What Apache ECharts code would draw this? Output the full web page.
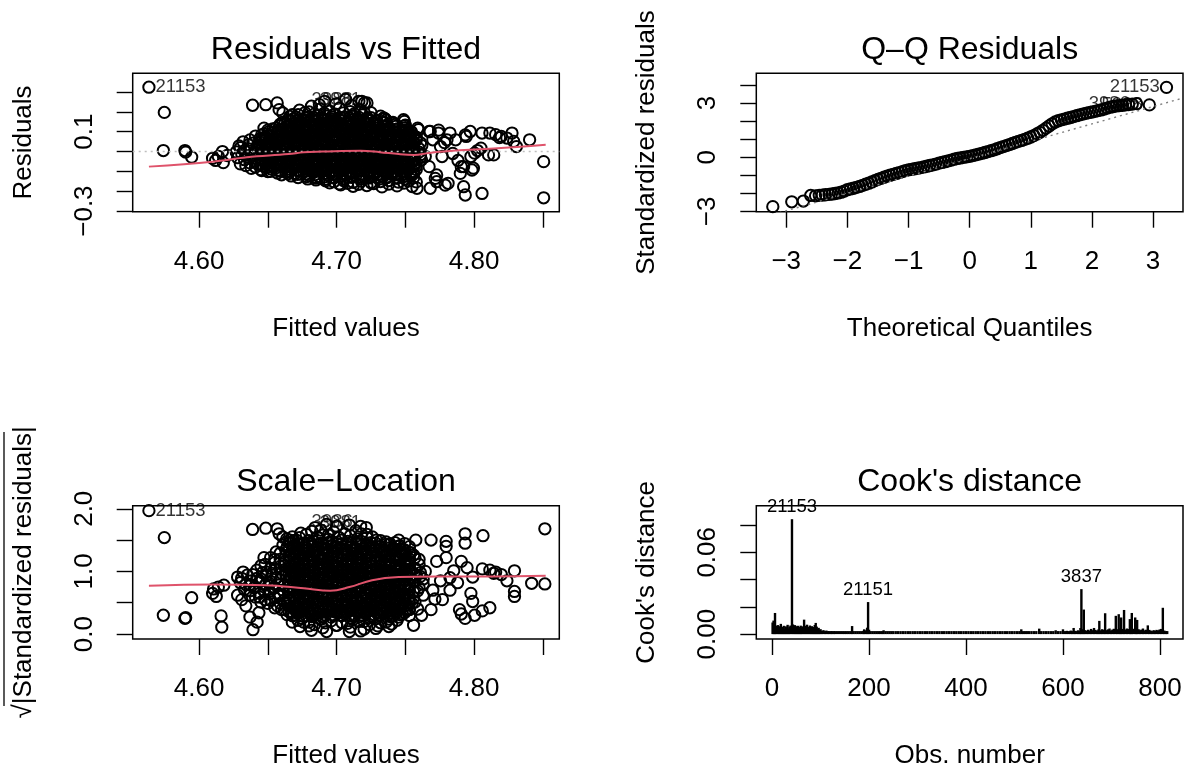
<!DOCTYPE html>
<html>
<head>
<meta charset="utf-8">
<title>lm diagnostics</title>
<script src="https://cdn.jsdelivr.net/npm/echarts@6.0.0/dist/echarts.min.js"></script>
<style>
  html, body { margin: 0; padding: 0; background: #fff; }
  #main { width: 1186px; height: 770px; }
</style>
</head>
<body>
<div id="main"></div>
<script>
// ---- Residuals vs Fitted: [fitted, residual] ----
const rvfPoints = [
  [4.5635,0.324],[4.5747,0.197],[4.574,0.005],[4.5897,0.005],[4.5902,-0.003],[4.5946,-0.028],
  [4.6098,-0.034],[4.614,-0.025],[4.6176,-0.056],[4.617,0.0],[4.612,-0.045],[4.6205,-0.02],
  [4.6389,0.233],[4.6485,0.236],[4.6568,0.245],[4.6582,0.211],[4.6609,0.194],[4.6678,0.186],
  [4.6472,0.118],[4.6458,0.059],[4.6817,0.228],[4.6913,0.253],[4.7066,0.262],[4.7162,0.253],
  [4.7203,0.245],[4.6995,0.24],[4.6875,0.236],[4.711,0.232],[4.7184,0.253],[4.7221,0.245],
  [4.7342,0.169],[4.7493,0.152],[4.7487,0.16],[4.759,0.118],[4.7596,0.11],[4.7673,0.101],[4.7681,0.101],
  [4.7742,0.108],[4.7741,0.093],[4.7803,0.059],[4.7825,0.093],[4.7866,0.059],[4.7936,0.084],[4.7972,0.101],
  [4.8058,0.093],[4.8115,0.093],[4.8157,0.085],[4.8198,0.076],[4.8239,0.068],[4.8276,0.093],[4.8288,0.051],
  [4.8308,0.025],[4.8404,0.059],[4.8143,-0.017],[4.8105,-0.017],[4.8004,-0.008],[4.805,0.017],
  [4.8506,-0.051],[4.8506,-0.233],[4.7907,-0.076],[4.7924,-0.076],[4.79,-0.11],[4.7924,-0.177],
  [4.7936,-0.219],[4.8058,-0.211],[4.7995,-0.084],[4.7985,-0.093],[4.7977,-0.025],[4.7943,0.076],
  [4.7767,-0.025],[4.779,-0.169],[4.7811,-0.16],[4.7718,-0.135],[4.7681,-0.185],[4.7585,-0.185],
  [4.7728,-0.152],[4.7728,-0.118],[4.7673,-0.076],[4.7618,-0.042],[4.7756,0.025],[4.77,0.059],
  [4.7645,-0.025],[4.7785,0.045],[4.7845,-0.01],[4.7883,-0.045],[4.8025,0.005],[4.8185,0.07],
  [4.673,0.208],[4.680,0.199],[4.688,0.214],[4.695,0.203],[4.702,0.218],[4.710,0.201],[4.717,0.211],[4.725,0.196],
  [4.666,0.177],[4.672,0.186],[4.679,0.172],[4.686,0.183],[4.692,0.179],[4.699,0.188],[4.706,0.174],[4.712,0.181],
  [4.719,0.185],[4.725,0.171],[4.732,0.178],
  [4.661,0.148],[4.667,0.155],[4.674,0.143],[4.680,0.152],[4.687,0.158],[4.694,0.146],[4.700,0.153],[4.707,0.141],
  [4.714,0.156],[4.720,0.149],[4.727,0.144],[4.734,0.151],[4.741,0.147],
  [4.656,0.118],[4.663,0.124],[4.669,0.113],[4.676,0.121],[4.683,0.127],[4.689,0.116],[4.696,0.122],[4.703,0.119],
  [4.709,0.126],[4.716,0.114],[4.723,0.123],[4.729,0.117],[4.736,0.125],[4.743,0.112],[4.750,0.12],
  [4.647,0.088],[4.653,0.094],[4.660,0.085],[4.667,0.092],[4.673,0.097],[4.680,0.086],[4.687,0.091],[4.693,0.095],
  [4.700,0.083],[4.707,0.09],[4.713,0.096],[4.720,0.087],[4.727,0.093],[4.733,0.084],[4.740,0.089],[4.747,0.094],[4.754,0.086],
  [4.637,0.058],[4.644,0.063],[4.651,0.055],[4.657,0.061],[4.664,0.066],[4.671,0.054],[4.677,0.06],[4.684,0.065],
  [4.691,0.057],[4.697,0.062],[4.704,0.053],[4.711,0.059],[4.717,0.064],[4.724,0.056],[4.731,0.061],[4.737,0.067],
  [4.744,0.055],[4.751,0.06],[4.758,0.058],
  [4.629,0.028],[4.636,0.034],[4.642,0.025],[4.649,0.031],[4.656,0.036],[4.662,0.027],[4.669,0.032],[4.676,0.024],
  [4.682,0.035],[4.689,0.029],[4.696,0.033],[4.702,0.026],[4.709,0.031],[4.716,0.037],[4.722,0.028],[4.729,0.023],
  [4.736,0.034],[4.742,0.029],[4.749,0.032],[4.756,0.026],[4.762,0.03],
  [4.627,-0.002],[4.633,0.004],[4.640,-0.005],[4.647,0.002],[4.653,-0.004],[4.660,0.005],[4.667,-0.001],[4.673,0.003],
  [4.680,-0.006],[4.687,0.001],[4.693,0.006],[4.700,-0.003],[4.707,0.002],[4.713,-0.005],[4.720,0.004],[4.727,-0.002],
  [4.733,0.003],[4.740,-0.004],[4.747,0.001],[4.753,0.005],[4.760,-0.003],
  [4.628,-0.031],[4.635,-0.026],[4.641,-0.034],[4.648,-0.028],[4.655,-0.033],[4.661,-0.025],[4.668,-0.03],[4.675,-0.035],
  [4.681,-0.027],[4.688,-0.032],[4.695,-0.024],[4.701,-0.029],[4.708,-0.036],[4.715,-0.028],[4.721,-0.031],[4.728,-0.026],
  [4.735,-0.033],[4.741,-0.029],[4.748,-0.034],[4.755,-0.027],[4.761,-0.03],
  [4.630,-0.062],[4.637,-0.057],[4.643,-0.065],[4.650,-0.059],[4.657,-0.054],[4.663,-0.063],[4.670,-0.058],[4.677,-0.066],
  [4.683,-0.061],[4.690,-0.056],[4.697,-0.064],[4.703,-0.059],[4.710,-0.055],[4.717,-0.062],[4.723,-0.067],[4.730,-0.058],
  [4.737,-0.063],[4.743,-0.057],[4.750,-0.061],[4.757,-0.065],
  [4.638,-0.085],[4.645,-0.091],[4.652,-0.087],[4.658,-0.094],[4.665,-0.089],[4.672,-0.096],[4.678,-0.088],[4.685,-0.093],
  [4.692,-0.086],[4.698,-0.095],[4.705,-0.09],[4.712,-0.084],[4.718,-0.092],[4.725,-0.097],[4.732,-0.088],[4.738,-0.093],
  [4.745,-0.089],[4.752,-0.095],[4.758,-0.091],
  [4.660,-0.117],[4.667,-0.123],[4.674,-0.114],[4.680,-0.121],[4.687,-0.126],[4.694,-0.118],[4.700,-0.124],[4.707,-0.116],
  [4.714,-0.122],[4.720,-0.127],[4.727,-0.119],[4.734,-0.125],[4.740,-0.115],[4.747,-0.121],[4.754,-0.124],
  [4.685,-0.143],[4.692,-0.148],[4.698,-0.152],[4.705,-0.146],[4.712,-0.155],[4.718,-0.149],[4.725,-0.157],[4.732,-0.151],
  [4.738,-0.146],[4.745,-0.154],[4.752,-0.149],[4.758,-0.153],
  [4.703,-0.168],[4.712,-0.175],[4.722,-0.171],[4.733,-0.178],[4.744,-0.173],[4.755,-0.176],
  [4.677,0.196],[4.684,0.189],[4.691,0.193],[4.698,0.187],[4.705,0.195],[4.713,0.191],[4.720,0.197],
  [4.669,0.167],[4.676,0.160],[4.682,0.164],[4.689,0.158],[4.696,0.166],[4.702,0.162],[4.709,0.168],[4.716,0.161],
  [4.722,0.163],[4.729,0.158],[4.735,0.166],
  [4.659,0.138],[4.665,0.131],[4.672,0.135],[4.678,0.129],[4.685,0.137],[4.691,0.133],[4.698,0.139],[4.704,0.132],
  [4.711,0.136],[4.717,0.130],[4.724,0.138],[4.730,0.134],[4.737,0.131],[4.743,0.137],[4.750,0.133],
  [4.650,0.108],[4.657,0.101],[4.663,0.105],[4.670,0.099],[4.676,0.107],[4.683,0.103],[4.689,0.109],[4.696,0.102],
  [4.702,0.106],[4.709,0.100],[4.715,0.108],[4.722,0.104],[4.728,0.101],[4.735,0.107],[4.741,0.103],[4.748,0.109],[4.754,0.100],
  [4.641,0.078],[4.648,0.071],[4.654,0.075],[4.661,0.069],[4.667,0.077],[4.674,0.073],[4.680,0.079],[4.687,0.072],
  [4.693,0.076],[4.700,0.070],[4.706,0.078],[4.713,0.074],[4.719,0.071],[4.726,0.077],[4.732,0.073],[4.739,0.079],
  [4.745,0.070],[4.752,0.075],[4.758,0.072],
  [4.632,0.049],[4.639,0.042],[4.645,0.046],[4.652,0.040],[4.658,0.048],[4.665,0.044],[4.671,0.050],[4.678,0.043],
  [4.684,0.047],[4.691,0.041],[4.697,0.049],[4.704,0.045],[4.710,0.042],[4.717,0.048],[4.723,0.044],[4.730,0.050],
  [4.736,0.041],[4.743,0.046],[4.749,0.043],[4.756,0.047],[4.761,0.044],
  [4.630,0.019],[4.637,0.012],[4.643,0.016],[4.650,0.010],[4.656,0.018],[4.663,0.014],[4.669,0.020],[4.676,0.013],
  [4.682,0.017],[4.689,0.011],[4.695,0.019],[4.702,0.015],[4.708,0.012],[4.715,0.018],[4.721,0.014],[4.728,0.020],
  [4.734,0.011],[4.741,0.016],[4.747,0.013],[4.754,0.017],[4.760,0.014],
  [4.631,-0.011],[4.638,-0.018],[4.644,-0.014],[4.651,-0.020],[4.657,-0.012],[4.664,-0.016],[4.670,-0.010],[4.677,-0.017],
  [4.683,-0.013],[4.690,-0.019],[4.696,-0.011],[4.703,-0.015],[4.709,-0.018],[4.716,-0.012],[4.722,-0.016],[4.729,-0.010],
  [4.735,-0.019],[4.742,-0.014],[4.748,-0.017],[4.755,-0.013],[4.761,-0.016],
  [4.633,-0.041],[4.640,-0.048],[4.646,-0.044],[4.653,-0.050],[4.659,-0.042],[4.666,-0.046],[4.672,-0.040],[4.679,-0.047],
  [4.685,-0.043],[4.692,-0.049],[4.698,-0.041],[4.705,-0.045],[4.711,-0.048],[4.718,-0.042],[4.724,-0.046],[4.731,-0.040],
  [4.737,-0.049],[4.744,-0.044],[4.750,-0.047],[4.757,-0.043],
  [4.634,-0.071],[4.641,-0.078],[4.647,-0.074],[4.654,-0.080],[4.660,-0.072],[4.667,-0.076],[4.673,-0.070],[4.680,-0.077],
  [4.686,-0.073],[4.693,-0.079],[4.699,-0.071],[4.706,-0.075],[4.712,-0.078],[4.719,-0.072],[4.725,-0.076],[4.732,-0.070],
  [4.738,-0.079],[4.745,-0.074],[4.751,-0.077],[4.758,-0.073],
  [4.650,-0.101],[4.657,-0.108],[4.663,-0.104],[4.670,-0.110],[4.676,-0.102],[4.683,-0.106],[4.689,-0.100],[4.696,-0.107],
  [4.702,-0.103],[4.709,-0.109],[4.715,-0.101],[4.722,-0.105],[4.728,-0.108],[4.735,-0.102],[4.741,-0.106],[4.748,-0.100],[4.754,-0.109],
  [4.672,-0.131],[4.679,-0.138],[4.685,-0.134],[4.692,-0.140],[4.698,-0.132],[4.705,-0.136],[4.711,-0.130],[4.718,-0.137],
  [4.724,-0.133],[4.731,-0.139],[4.737,-0.131],[4.744,-0.135],[4.750,-0.138],[4.756,-0.132],
  [4.695,-0.158],[4.702,-0.163],[4.708,-0.160],[4.716,-0.165],[4.727,-0.161],[4.738,-0.164],[4.749,-0.159]
];
// the solid black core of the residual cloud
const rvfCore = [
  [4.6705,0.173],[4.677,0.169],[4.6835,0.172],[4.690,0.168],[4.6965,0.174],[4.703,0.171],[4.7095,0.170],[4.716,0.173],[4.7225,0.169],
  [4.6645,0.158],[4.671,0.154],[4.6775,0.157],[4.684,0.153],[4.6905,0.159],[4.697,0.156],[4.7035,0.155],[4.710,0.158],
  [4.7165,0.154],[4.723,0.157],[4.7295,0.153],[4.736,0.159],
  [4.6625,0.144],[4.669,0.140],[4.6755,0.143],[4.682,0.139],[4.6885,0.145],[4.695,0.142],[4.7015,0.141],[4.708,0.144],
  [4.7145,0.140],[4.721,0.143],[4.7275,0.139],[4.734,0.145],[4.7405,0.142],
  [4.6585,0.129],[4.665,0.125],[4.6715,0.128],[4.678,0.124],[4.6845,0.130],[4.691,0.127],[4.6975,0.126],[4.704,0.129],
  [4.7105,0.125],[4.717,0.128],[4.7235,0.124],[4.730,0.130],[4.7365,0.127],[4.743,0.126],[4.7495,0.129],
  [4.6535,0.114],[4.660,0.110],[4.6665,0.113],[4.673,0.109],[4.6795,0.115],[4.686,0.112],[4.6925,0.111],[4.699,0.114],
  [4.7055,0.110],[4.712,0.113],[4.7185,0.109],[4.725,0.115],[4.7315,0.112],[4.738,0.111],[4.7445,0.114],[4.751,0.110],
  [4.6505,0.099],[4.657,0.095],[4.6635,0.098],[4.670,0.094],[4.6765,0.100],[4.683,0.097],[4.6895,0.096],[4.696,0.099],
  [4.7025,0.095],[4.709,0.098],[4.7155,0.094],[4.722,0.100],[4.7285,0.097],[4.735,0.096],[4.7415,0.099],[4.748,0.095],[4.7545,0.098],
  [4.6455,0.084],[4.652,0.080],[4.6585,0.083],[4.665,0.079],[4.6715,0.085],[4.678,0.082],[4.6845,0.081],[4.691,0.084],
  [4.6975,0.080],[4.704,0.083],[4.7105,0.079],[4.717,0.085],[4.7235,0.082],[4.730,0.081],[4.7365,0.084],[4.743,0.080],
  [4.7495,0.083],[4.756,0.079],
  [4.6488,0.069],[4.6553,0.065],[4.6618,0.068],[4.6683,0.064],[4.6748,0.070],[4.6813,0.067],[4.6878,0.066],[4.6943,0.069],
  [4.7008,0.065],[4.7073,0.068],[4.7138,0.064],[4.7203,0.070],[4.7268,0.067],[4.7333,0.066],[4.7398,0.069],[4.7463,0.065],[4.7528,0.068],
  [4.6455,0.054],[4.652,0.050],[4.6585,0.053],[4.665,0.049],[4.6715,0.055],[4.678,0.052],[4.6845,0.051],[4.691,0.054],
  [4.6975,0.050],[4.704,0.053],[4.7105,0.049],[4.717,0.055],[4.7235,0.052],[4.730,0.051],[4.7365,0.054],[4.743,0.050],
  [4.7495,0.053],[4.756,0.049],
  [4.6488,0.039],[4.6553,0.035],[4.6618,0.038],[4.6683,0.034],[4.6748,0.040],[4.6813,0.037],[4.6878,0.036],[4.6943,0.039],
  [4.7008,0.035],[4.7073,0.038],[4.7138,0.034],[4.7203,0.040],[4.7268,0.037],[4.7333,0.036],[4.7398,0.039],[4.7463,0.035],[4.7528,0.038],
  [4.6455,0.024],[4.652,0.020],[4.6585,0.023],[4.665,0.019],[4.6715,0.025],[4.678,0.022],[4.6845,0.021],[4.691,0.024],
  [4.6975,0.020],[4.704,0.023],[4.7105,0.019],[4.717,0.025],[4.7235,0.022],[4.730,0.021],[4.7365,0.024],[4.743,0.020],
  [4.7495,0.023],[4.756,0.019],
  [4.6488,0.009],[4.6553,0.005],[4.6618,0.008],[4.6683,0.004],[4.6748,0.010],[4.6813,0.007],[4.6878,0.006],[4.6943,0.009],
  [4.7008,0.005],[4.7073,0.008],[4.7138,0.004],[4.7203,0.010],[4.7268,0.007],[4.7333,0.006],[4.7398,0.009],[4.7463,0.005],[4.7528,0.008],
  [4.6455,-0.006],[4.652,-0.010],[4.6585,-0.007],[4.665,-0.011],[4.6715,-0.005],[4.678,-0.008],[4.6845,-0.009],[4.691,-0.006],
  [4.6975,-0.010],[4.704,-0.007],[4.7105,-0.011],[4.717,-0.005],[4.7235,-0.008],[4.730,-0.009],[4.7365,-0.006],[4.743,-0.010],
  [4.7495,-0.007],[4.756,-0.011],
  [4.6488,-0.021],[4.6553,-0.025],[4.6618,-0.022],[4.6683,-0.026],[4.6748,-0.020],[4.6813,-0.023],[4.6878,-0.024],[4.6943,-0.021],
  [4.7008,-0.025],[4.7073,-0.022],[4.7138,-0.026],[4.7203,-0.020],[4.7268,-0.023],[4.7333,-0.024],[4.7398,-0.021],[4.7463,-0.025],[4.7528,-0.022],
  [4.6455,-0.036],[4.652,-0.040],[4.6585,-0.037],[4.665,-0.041],[4.6715,-0.035],[4.678,-0.038],[4.6845,-0.039],[4.691,-0.036],
  [4.6975,-0.040],[4.704,-0.037],[4.7105,-0.041],[4.717,-0.035],[4.7235,-0.038],[4.730,-0.039],[4.7365,-0.036],[4.743,-0.040],
  [4.7495,-0.037],[4.756,-0.041],
  [4.6488,-0.051],[4.6553,-0.055],[4.6618,-0.052],[4.6683,-0.056],[4.6748,-0.050],[4.6813,-0.053],[4.6878,-0.054],[4.6943,-0.051],
  [4.7008,-0.055],[4.7073,-0.052],[4.7138,-0.056],[4.7203,-0.050],[4.7268,-0.053],[4.7333,-0.054],[4.7398,-0.051],[4.7463,-0.055],[4.7528,-0.052],
  [4.6455,-0.066],[4.652,-0.070],[4.6585,-0.067],[4.665,-0.071],[4.6715,-0.065],[4.678,-0.068],[4.6845,-0.069],[4.691,-0.066],
  [4.6975,-0.070],[4.704,-0.067],[4.7105,-0.071],[4.717,-0.065],[4.7235,-0.068],[4.730,-0.069],[4.7365,-0.066],[4.743,-0.070],
  [4.7495,-0.067],[4.756,-0.071],
  [4.6488,-0.081],[4.6553,-0.085],[4.6618,-0.082],[4.6683,-0.086],[4.6748,-0.080],[4.6813,-0.083],[4.6878,-0.084],[4.6943,-0.081],
  [4.7008,-0.085],[4.7073,-0.082],[4.7138,-0.086],[4.7203,-0.080],[4.7268,-0.083],[4.7333,-0.084],[4.7398,-0.081],[4.7463,-0.085],[4.7528,-0.082],
  [4.6455,-0.096],[4.652,-0.100],[4.6585,-0.097],[4.665,-0.101],[4.6715,-0.095],[4.678,-0.098],[4.6845,-0.099],[4.691,-0.096],
  [4.6975,-0.100],[4.704,-0.097],[4.7105,-0.101],[4.717,-0.095],[4.7235,-0.098],[4.730,-0.099],[4.7365,-0.096],[4.743,-0.100],
  [4.7495,-0.097],[4.756,-0.101],
  [4.665,-0.111],[4.6715,-0.115],[4.678,-0.112],[4.6845,-0.116],[4.691,-0.110],[4.6975,-0.113],[4.704,-0.114],[4.7105,-0.111],
  [4.717,-0.115],[4.7235,-0.112],[4.730,-0.116],[4.7365,-0.110],[4.743,-0.113],[4.7495,-0.114],[4.756,-0.111],
  [4.6783,-0.126],[4.6848,-0.130],[4.6913,-0.127],[4.6978,-0.131],[4.7043,-0.125],[4.7108,-0.128],[4.7173,-0.129],[4.7238,-0.126],
  [4.7303,-0.130],[4.7368,-0.127],[4.7433,-0.131],[4.7498,-0.125]
];
const rvfSmoothX = [4.5635, 4.6098, 4.6347, 4.6651, 4.6761, 4.69, 4.7175, 4.7314, 4.7452, 4.7563, 4.7673, 4.7866, 4.8143, 4.8521];
const rvfSmoothY = [-0.076, -0.051, -0.029, -0.013, -0.003, 0.0, 0.004, -0.003, -0.013, -0.017, -0.007, 0.005, 0.015, 0.034];
const rvfIds = [[4.5635, 0.324, '21153'], [4.677, 0.262, '3986'], [4.683, 0.258, '3981']];

// ---- Normal Q-Q: [theoretical quantile, standardized residual] ----
const qqPoints = [
  [-3.22,-2.74],[-2.91,-2.47],[-2.72,-2.43],[-2.60,-2.12],[-2.52,-2.14],[-2.46,-2.11],[-2.41,-2.10],[-2.36,-2.08],
  [-2.30,-2.06],[-2.25,-2.04],[-2.20,-2.01],[-2.15,-1.98],[-2.10,-1.94],[-2.05,-1.88],[-2.00,-1.80],[-1.95,-1.76],
  [-1.90,-1.72],[-1.85,-1.67],[-1.80,-1.62],[-1.75,-1.56],[-1.70,-1.50],[-1.65,-1.44],[-1.60,-1.37],[-1.55,-1.30],
  [-1.50,-1.23],[-1.45,-1.17],[-1.40,-1.11],[-1.35,-1.05],[-1.30,-1.00],[-1.25,-0.95],[-1.20,-0.90],[-1.15,-0.85],
  [-1.10,-0.80],[-1.05,-0.74],[-1.00,-0.70],[-0.95,-0.67],[-0.90,-0.64],[-0.85,-0.61],[-0.80,-0.58],[-0.75,-0.54],
  [-0.70,-0.50],[-0.65,-0.46],[-0.60,-0.42],[-0.55,-0.38],[-0.50,-0.33],[-0.45,-0.29],[-0.40,-0.25],[-0.35,-0.20],
  [-0.30,-0.16],[-0.25,-0.11],[-0.20,-0.07],[-0.15,-0.04],[-0.10,-0.01],[-0.05,0.02],[0.00,0.05],[0.05,0.09],
  [0.10,0.13],[0.15,0.17],[0.20,0.21],[0.25,0.26],[0.30,0.31],[0.35,0.36],[0.40,0.41],[0.45,0.47],
  [0.50,0.53],[0.55,0.59],[0.60,0.64],[0.65,0.70],[0.70,0.76],[0.75,0.82],[0.80,0.88],[0.85,0.93],
  [0.90,0.99],[0.95,1.05],[1.00,1.12],[1.05,1.20],[1.10,1.29],[1.15,1.38],[1.20,1.49],[1.25,1.61],
  [1.30,1.73],[1.35,1.85],[1.40,1.95],[1.45,2.02],[1.50,2.07],[1.55,2.11],[1.60,2.16],[1.65,2.20],
  [1.70,2.25],[1.75,2.30],[1.80,2.35],[1.85,2.39],[1.90,2.43],[1.95,2.47],[2.00,2.50],[2.05,2.54],
  [2.10,2.58],[2.15,2.62],[2.20,2.67],[2.25,2.72],[2.30,2.77],[2.35,2.81],[2.40,2.84],[2.45,2.86],
  [2.50,2.88],[2.55,2.90],[2.60,2.92],[2.66,2.94],[2.73,2.97],[2.94,2.90],[3.22,3.87]
];
const qqLineX = [-3.49, 3.49];
const qqLineY = [-3.44, 3.28];
const qqIds = [[3.22, 3.87, '21153'], [2.94, 2.90, '5398'], [2.73, 2.97, '3986']];

// ---- Scale-Location: [fitted, sqrt(|std. residual|)] ----
const slPoints = [
  [4.5635,1.97],[4.5747,1.54],[4.574,0.30],[4.5897,0.25],[4.5902,0.26],[4.5946,0.58],[4.6098,0.65],[4.6125,0.60],
  [4.614,0.75],[4.618,0.78],[4.6105,0.72],[4.616,0.29],[4.6165,0.11],
  [4.6389,1.67],[4.6485,1.69],[4.6568,1.68],[4.6582,1.60],[4.6609,1.55],[4.6637,1.52],[4.6678,1.55],[4.6706,1.50],[4.6472,1.22],
  [4.6392,0.07],[4.6422,0.19],[4.6435,0.34],[4.637,0.27],[4.634,0.45],[4.631,0.55],[4.628,0.62],
  [4.6817,0.06],[4.6927,0.04],[4.7093,0.04],[4.7175,0.05],[4.7286,0.09],[4.738,0.12],[4.756,0.14],[4.6734,0.12],[4.6678,0.19],
  [4.6844,1.70],[4.6927,1.75],[4.7093,1.74],[4.7175,1.72],[4.7216,1.70],[4.70,1.72],[4.6885,1.66],
  [4.7452,1.50],[4.7576,1.50],[4.7687,1.50],[4.7797,1.48],[4.7797,1.40],[4.7935,1.60],[4.7935,1.45],[4.8065,1.57],
  [4.8515,1.68],[4.8515,0.80],[4.8419,0.81],[4.8294,1.01],[4.7907,1.16],[4.7949,1.06],[4.799,0.91],[4.7977,0.65],
  [4.799,0.52],[4.7894,0.39],[4.7907,0.32],[4.7935,0.25],[4.8004,0.30],[4.806,0.37],[4.8115,0.42],[4.7825,0.70],
  [4.777,0.55],[4.7715,0.56],[4.7687,0.39],[4.7618,0.30],[4.759,0.40],[4.7852,1.01],[4.7797,1.22],[4.7728,1.16],
  [4.806,1.04],[4.8115,1.02],[4.8157,0.99],[4.8198,0.95],[4.8239,0.85],[4.8294,0.68],[4.8294,0.60],[4.8143,0.97],
  [4.7756,0.85],[4.7825,0.90],[4.788,0.82],[4.7645,1.00],[4.770,0.70],[4.763,0.62],
  [4.674,1.61],[4.682,1.64],[4.690,1.58],[4.698,1.63],[4.706,1.60],[4.714,1.65],[4.722,1.59],
  [4.666,1.50],[4.673,1.54],[4.680,1.49],[4.687,1.53],[4.694,1.51],[4.701,1.55],[4.708,1.48],[4.715,1.52],
  [4.722,1.54],[4.729,1.50],[4.736,1.47],
  [4.661,1.42],[4.668,1.39],[4.675,1.44],[4.682,1.41],[4.689,1.45],[4.696,1.40],[4.703,1.43],[4.710,1.38],
  [4.717,1.44],[4.724,1.41],[4.731,1.39],[4.738,1.43],[4.745,1.40],
  [4.656,1.31],[4.663,1.34],[4.670,1.29],[4.677,1.33],[4.684,1.30],[4.691,1.35],[4.698,1.32],[4.705,1.28],
  [4.712,1.34],[4.719,1.31],[4.726,1.33],[4.733,1.29],[4.740,1.35],[4.747,1.31],[4.754,1.30],
  [4.652,1.22],[4.659,1.19],[4.666,1.24],[4.673,1.21],[4.680,1.18],[4.687,1.23],[4.694,1.20],[4.701,1.25],
  [4.708,1.19],[4.715,1.22],[4.722,1.24],[4.729,1.18],[4.736,1.23],[4.743,1.21],[4.750,1.19],[4.757,1.22],
  [4.648,1.11],[4.655,1.14],[4.662,1.09],[4.669,1.13],[4.676,1.10],[4.683,1.15],[4.690,1.12],[4.697,1.08],
  [4.704,1.14],[4.711,1.11],[4.718,1.13],[4.725,1.09],[4.732,1.15],[4.739,1.12],[4.746,1.10],[4.753,1.13],[4.760,1.11],
  [4.642,1.02],[4.649,0.99],[4.656,1.04],[4.663,1.01],[4.670,0.98],[4.677,1.03],[4.684,1.00],[4.691,1.05],
  [4.698,0.99],[4.705,1.02],[4.712,1.04],[4.719,0.98],[4.726,1.03],[4.733,1.01],[4.740,0.99],[4.747,1.04],
  [4.754,1.01],[4.761,0.98],
  [4.628,0.91],[4.635,0.94],[4.642,0.89],[4.649,0.93],[4.656,0.90],[4.663,0.95],[4.670,0.92],[4.677,0.88],
  [4.684,0.94],[4.691,0.91],[4.698,0.93],[4.705,0.89],[4.712,0.95],[4.719,0.92],[4.726,0.90],[4.733,0.93],
  [4.740,0.91],[4.747,0.94],[4.754,0.89],[4.761,0.92],
  [4.630,0.82],[4.637,0.79],[4.644,0.84],[4.651,0.81],[4.658,0.78],[4.665,0.83],[4.672,0.80],[4.679,0.85],
  [4.686,0.79],[4.693,0.82],[4.700,0.84],[4.707,0.78],[4.714,0.83],[4.721,0.81],[4.728,0.79],[4.735,0.84],
  [4.742,0.81],[4.749,0.78],[4.756,0.83],[4.763,0.80],
  [4.633,0.71],[4.640,0.74],[4.647,0.69],[4.654,0.73],[4.661,0.70],[4.668,0.75],[4.675,0.72],[4.682,0.68],
  [4.689,0.74],[4.696,0.71],[4.703,0.73],[4.710,0.69],[4.717,0.75],[4.724,0.72],[4.731,0.70],[4.738,0.73],
  [4.745,0.71],[4.752,0.74],[4.759,0.69],
  [4.637,0.62],[4.644,0.59],[4.651,0.64],[4.658,0.61],[4.665,0.58],[4.672,0.63],[4.679,0.60],[4.686,0.65],
  [4.693,0.59],[4.700,0.62],[4.707,0.64],[4.714,0.58],[4.721,0.63],[4.728,0.61],[4.735,0.59],[4.742,0.64],
  [4.749,0.61],[4.756,0.58],
  [4.645,0.51],[4.652,0.54],[4.659,0.49],[4.666,0.53],[4.673,0.50],[4.680,0.55],[4.687,0.52],[4.694,0.48],
  [4.701,0.54],[4.708,0.51],[4.715,0.53],[4.722,0.49],[4.729,0.55],[4.736,0.52],[4.743,0.50],[4.750,0.53],[4.757,0.51],
  [4.655,0.42],[4.662,0.39],[4.669,0.44],[4.676,0.41],[4.683,0.38],[4.690,0.43],[4.697,0.40],[4.704,0.45],
  [4.711,0.39],[4.718,0.42],[4.725,0.44],[4.732,0.38],[4.739,0.43],[4.746,0.41],[4.753,0.39],
  [4.664,0.31],[4.671,0.34],[4.678,0.29],[4.685,0.33],[4.692,0.30],[4.699,0.35],[4.706,0.32],[4.713,0.28],
  [4.720,0.34],[4.727,0.31],[4.734,0.33],[4.741,0.29],[4.748,0.32],
  [4.672,0.22],[4.680,0.19],[4.688,0.24],[4.696,0.21],[4.704,0.18],[4.712,0.23],[4.720,0.20],[4.728,0.24],
  [4.736,0.19],[4.744,0.22],
  [4.680,0.13],[4.690,0.10],[4.700,0.14],[4.710,0.11],[4.720,0.08],[4.730,0.13],
  [4.678,1.59],[4.686,1.55],[4.694,1.58],[4.702,1.54],[4.710,1.57],[4.718,1.60],[4.726,1.55],
  [4.669,1.49],[4.676,1.45],[4.683,1.48],[4.690,1.44],[4.697,1.47],[4.704,1.50],[4.711,1.45],[4.718,1.48],
  [4.725,1.46],[4.732,1.49],[4.739,1.44],
  [4.664,1.39],[4.671,1.35],[4.678,1.38],[4.685,1.34],[4.692,1.37],[4.699,1.40],[4.706,1.35],[4.713,1.38],
  [4.720,1.36],[4.727,1.39],[4.734,1.34],[4.741,1.37],[4.748,1.35],
  [4.659,1.29],[4.666,1.25],[4.673,1.28],[4.680,1.24],[4.687,1.27],[4.694,1.30],[4.701,1.25],[4.708,1.28],
  [4.715,1.26],[4.722,1.29],[4.729,1.24],[4.736,1.27],[4.743,1.25],[4.750,1.28],[4.756,1.26],
  [4.655,1.19],[4.662,1.15],[4.669,1.18],[4.676,1.14],[4.683,1.17],[4.690,1.20],[4.697,1.15],[4.704,1.18],
  [4.711,1.16],[4.718,1.19],[4.725,1.14],[4.732,1.17],[4.739,1.15],[4.746,1.18],[4.753,1.16],[4.760,1.19],
  [4.645,1.09],[4.652,1.05],[4.659,1.08],[4.666,1.04],[4.673,1.07],[4.680,1.10],[4.687,1.05],[4.694,1.08],
  [4.701,1.06],[4.708,1.09],[4.715,1.04],[4.722,1.07],[4.729,1.05],[4.736,1.08],[4.743,1.06],[4.750,1.09],[4.757,1.05],
  [4.632,0.99],[4.639,0.95],[4.646,0.98],[4.653,0.94],[4.660,0.97],[4.667,1.00],[4.674,0.95],[4.681,0.98],
  [4.688,0.96],[4.695,0.99],[4.702,0.94],[4.709,0.97],[4.716,0.95],[4.723,0.98],[4.730,0.96],[4.737,0.99],
  [4.744,0.95],[4.751,0.97],[4.758,0.94],
  [4.631,0.89],[4.638,0.85],[4.645,0.88],[4.652,0.84],[4.659,0.87],[4.666,0.90],[4.673,0.85],[4.680,0.88],
  [4.687,0.86],[4.694,0.89],[4.701,0.84],[4.708,0.87],[4.715,0.85],[4.722,0.88],[4.729,0.86],[4.736,0.89],
  [4.743,0.85],[4.750,0.87],[4.757,0.84],[4.763,0.88],
  [4.634,0.79],[4.641,0.75],[4.648,0.78],[4.655,0.74],[4.662,0.77],[4.669,0.80],[4.676,0.75],[4.683,0.78],
  [4.690,0.76],[4.697,0.79],[4.704,0.74],[4.711,0.77],[4.718,0.75],[4.725,0.78],[4.732,0.76],[4.739,0.79],
  [4.746,0.75],[4.753,0.77],[4.760,0.74],
  [4.637,0.69],[4.644,0.65],[4.651,0.68],[4.658,0.64],[4.665,0.67],[4.672,0.70],[4.679,0.65],[4.686,0.68],
  [4.693,0.66],[4.700,0.69],[4.707,0.64],[4.714,0.67],[4.721,0.65],[4.728,0.68],[4.735,0.66],[4.742,0.69],
  [4.749,0.65],[4.756,0.67],
  [4.641,0.59],[4.648,0.55],[4.655,0.58],[4.662,0.54],[4.669,0.57],[4.676,0.60],[4.683,0.55],[4.690,0.58],
  [4.697,0.56],[4.704,0.59],[4.711,0.54],[4.718,0.57],[4.725,0.55],[4.732,0.58],[4.739,0.56],[4.746,0.59],[4.753,0.55],
  [4.650,0.49],[4.657,0.45],[4.664,0.48],[4.671,0.44],[4.678,0.47],[4.685,0.50],[4.692,0.45],[4.699,0.48],
  [4.706,0.46],[4.713,0.49],[4.720,0.44],[4.727,0.47],[4.734,0.45],[4.741,0.48],[4.748,0.46],[4.755,0.49],
  [4.660,0.39],[4.667,0.35],[4.674,0.38],[4.681,0.34],[4.688,0.37],[4.695,0.40],[4.702,0.35],[4.709,0.38],
  [4.716,0.36],[4.723,0.39],[4.730,0.34],[4.737,0.37],[4.744,0.35],[4.751,0.38],
  [4.668,0.29],[4.675,0.25],[4.682,0.28],[4.689,0.24],[4.696,0.27],[4.703,0.30],[4.710,0.25],[4.717,0.28],
  [4.724,0.26],[4.731,0.29],[4.738,0.24],[4.745,0.27],
  [4.676,0.19],[4.684,0.15],[4.692,0.18],[4.700,0.14],[4.708,0.17],[4.716,0.20],[4.724,0.15],[4.732,0.18],[4.740,0.16]
];
// the solid black core of the scale-location cloud
const slCore = [
  [4.6655,1.455],[4.6725,1.435],[4.6795,1.45],[4.6865,1.43],[4.6935,1.46],[4.7005,1.445],[4.7075,1.44],[4.7145,1.455],[4.7215,1.435],[4.7285,1.45],[4.7355,1.43],[4.7425,1.46],[4.7495,1.445],
  [4.669,1.405],[4.676,1.385],[4.683,1.40],[4.690,1.38],[4.697,1.41],[4.704,1.395],[4.711,1.39],[4.718,1.405],[4.725,1.385],[4.732,1.40],[4.739,1.38],[4.746,1.41],[4.753,1.395],
  [4.6655,1.355],[4.6725,1.335],[4.6795,1.35],[4.6865,1.33],[4.6935,1.36],[4.7005,1.345],[4.7075,1.34],[4.7145,1.355],[4.7215,1.335],[4.7285,1.35],[4.7355,1.33],[4.7425,1.36],[4.7495,1.345],
  [4.669,1.305],[4.676,1.285],[4.683,1.30],[4.690,1.28],[4.697,1.31],[4.704,1.295],[4.711,1.29],[4.718,1.305],[4.725,1.285],[4.732,1.30],[4.739,1.28],[4.746,1.31],[4.753,1.295],
  [4.6655,1.255],[4.6725,1.235],[4.6795,1.25],[4.6865,1.23],[4.6935,1.26],[4.7005,1.245],[4.7075,1.24],[4.7145,1.255],[4.7215,1.235],[4.7285,1.25],[4.7355,1.23],[4.7425,1.26],[4.7495,1.245],
  [4.669,1.205],[4.676,1.185],[4.683,1.20],[4.690,1.18],[4.697,1.21],[4.704,1.195],[4.711,1.19],[4.718,1.205],[4.725,1.185],[4.732,1.20],[4.739,1.18],[4.746,1.21],[4.753,1.195],
  [4.6655,1.155],[4.6725,1.135],[4.6795,1.15],[4.6865,1.13],[4.6935,1.16],[4.7005,1.145],[4.7075,1.14],[4.7145,1.155],[4.7215,1.135],[4.7285,1.15],[4.7355,1.13],[4.7425,1.16],[4.7495,1.145],
  [4.669,1.105],[4.676,1.085],[4.683,1.10],[4.690,1.08],[4.697,1.11],[4.704,1.095],[4.711,1.09],[4.718,1.105],[4.725,1.085],[4.732,1.10],[4.739,1.08],[4.746,1.11],[4.753,1.095],
  [4.6655,1.055],[4.6725,1.035],[4.6795,1.05],[4.6865,1.03],[4.6935,1.06],[4.7005,1.045],[4.7075,1.04],[4.7145,1.055],[4.7215,1.035],[4.7285,1.05],[4.7355,1.03],[4.7425,1.06],[4.7495,1.045],
  [4.669,1.005],[4.676,0.985],[4.683,1.00],[4.690,0.98],[4.697,1.01],[4.704,0.995],[4.711,0.99],[4.718,1.005],[4.725,0.985],[4.732,1.00],[4.739,0.98],[4.746,1.01],[4.753,0.995],
  [4.6655,0.955],[4.6725,0.935],[4.6795,0.95],[4.6865,0.93],[4.6935,0.96],[4.7005,0.945],[4.7075,0.94],[4.7145,0.955],[4.7215,0.935],[4.7285,0.95],[4.7355,0.93],[4.7425,0.96],[4.7495,0.945],
  [4.669,0.905],[4.676,0.885],[4.683,0.90],[4.690,0.88],[4.697,0.91],[4.704,0.895],[4.711,0.89],[4.718,0.905],[4.725,0.885],[4.732,0.90],[4.739,0.88],[4.746,0.91],[4.753,0.895],
  [4.6655,0.855],[4.6725,0.835],[4.6795,0.85],[4.6865,0.83],[4.6935,0.86],[4.7005,0.845],[4.7075,0.84],[4.7145,0.855],[4.7215,0.835],[4.7285,0.85],[4.7355,0.83],[4.7425,0.86],[4.7495,0.845],
  [4.669,0.805],[4.676,0.785],[4.683,0.80],[4.690,0.78],[4.697,0.81],[4.704,0.795],[4.711,0.79],[4.718,0.805],[4.725,0.785],[4.732,0.80],[4.739,0.78],[4.746,0.81],[4.753,0.795],
  [4.6655,0.755],[4.6725,0.735],[4.6795,0.75],[4.6865,0.73],[4.6935,0.76],[4.7005,0.745],[4.7075,0.74],[4.7145,0.755],[4.7215,0.735],[4.7285,0.75],[4.7355,0.73],[4.7425,0.76],[4.7495,0.745],
  [4.669,0.705],[4.676,0.685],[4.683,0.70],[4.690,0.68],[4.697,0.71],[4.704,0.695],[4.711,0.69],[4.718,0.705],[4.725,0.685],[4.732,0.70],[4.739,0.68],[4.746,0.71],[4.753,0.695],
  [4.6655,0.655],[4.6725,0.635],[4.6795,0.65],[4.6865,0.63],[4.6935,0.66],[4.7005,0.645],[4.7075,0.64],[4.7145,0.655],[4.7215,0.635],[4.7285,0.65],[4.7355,0.63],[4.7425,0.66],[4.7495,0.645],
  [4.669,0.605],[4.676,0.585],[4.683,0.60],[4.690,0.58],[4.697,0.61],[4.704,0.595],[4.711,0.59],[4.718,0.605],[4.725,0.585],[4.732,0.60],[4.739,0.58],[4.746,0.61],[4.753,0.595],
  [4.6655,0.555],[4.6725,0.535],[4.6795,0.55],[4.6865,0.53],[4.6935,0.56],[4.7005,0.545],[4.7075,0.54],[4.7145,0.555],[4.7215,0.535],[4.7285,0.55],[4.7355,0.53],[4.7425,0.56],[4.7495,0.545],
  [4.669,0.505],[4.676,0.485],[4.683,0.50],[4.690,0.48],[4.697,0.51],[4.704,0.495],[4.711,0.49],[4.718,0.505],[4.725,0.485],[4.732,0.50],[4.739,0.48],[4.746,0.51],[4.753,0.495],
  [4.6655,0.455],[4.6725,0.435],[4.6795,0.45],[4.6865,0.43],[4.6935,0.46],[4.7005,0.445],[4.7075,0.44],[4.7145,0.455],[4.7215,0.435],[4.7285,0.45],[4.7355,0.43],[4.7425,0.46],[4.7495,0.445],
  [4.669,0.405],[4.676,0.385],[4.683,0.40],[4.690,0.38],[4.697,0.41],[4.704,0.395],[4.711,0.39],[4.718,0.405],[4.725,0.385],[4.732,0.40],[4.739,0.38],[4.746,0.41],[4.753,0.395],
  [4.6655,0.355],[4.6725,0.335],[4.6795,0.35],[4.6865,0.33],[4.6935,0.36],[4.7005,0.345],[4.7075,0.34],[4.7145,0.355],[4.7215,0.335],[4.7285,0.35],[4.7355,0.33],[4.7425,0.36],[4.7495,0.345],
  [4.669,0.305],[4.676,0.285],[4.683,0.30],[4.690,0.28],[4.697,0.31],[4.704,0.295],[4.711,0.29],[4.718,0.305],[4.725,0.285],[4.732,0.30],[4.739,0.28],[4.746,0.31],[4.753,0.295]
];
const slSmoothX = [4.5635, 4.6098, 4.6485, 4.6761, 4.6954, 4.7093, 4.7258, 4.7452, 4.7728, 4.8143, 4.8521];
const slSmoothY = [0.77, 0.79, 0.78, 0.73, 0.69, 0.75, 0.86, 0.91, 0.92, 0.92, 0.93];
const slIds = [[4.5635, 1.97, '21153'], [4.677, 1.79, '3986'], [4.683, 1.78, '3981']];

// ---- Cook's distance: [obs. number, distance] ----
const cookPoints = [
  [1,0.0085],[3,0.0099],[5,0.0072],[6,0.0155],[8,0.0062],[10,0.0048],[12,0.0066],[14,0.0041],[16,0.0058],[18,0.0075],
  [20,0.0052],[22,0.0044],[24,0.0061],[26,0.0036],[28,0.0057],[30,0.0049],[32,0.0068],[34,0.0042],[36,0.0055],[38,0.0063],
  [41,0.0843],[43,0.0071],[45,0.0052],[47,0.0066],[49,0.0058],[51,0.0045],[53,0.0061],[55,0.0053],[57,0.0039],[59,0.0062],
  [61,0.0048],[63,0.0057],[66,0.0106],[68,0.0061],[70,0.0047],[72,0.0069],[74,0.0054],[76,0.0042],[78,0.0063],[80,0.0049],
  [82,0.0058],[84,0.0044],[86,0.0052],[88,0.0067],[90,0.0082],[92,0.0055],[94,0.0038],[96,0.0046],[98,0.0031],[100,0.0036],
  [103,0.0024],[106,0.0029],[109,0.0021],[112,0.0026],[115,0.0018],[118,0.0022],[121,0.0016],[124,0.0019],[127,0.0014],
  [130,0.0017],[134,0.0012],[138,0.0015],[142,0.0011],[146,0.0016],[150,0.0013],[154,0.0018],[158,0.0012],[162,0.0021],
  [165,0.0059],[168,0.0017],[172,0.0012],[176,0.0014],[180,0.0011],[184,0.0019],[188,0.0024],[190,0.0035],[193,0.0028],
  [196,0.0047],[198,0.0235],[200,0.0032],[203,0.0015],[207,0.0012],[211,0.0009],[215,0.0013],[219,0.0008],[223,0.0011],
  [227,0.0016],[230,0.0028],[234,0.0012],[238,0.0009],[242,0.0011],[246,0.0007],[250,0.001],[255,0.0008],[260,0.0012],
  [265,0.0009],[270,0.0011],[275,0.0016],[280,0.0008],[285,0.001],[290,0.0007],[295,0.0009],[300,0.0012],[305,0.0008],
  [310,0.0006],[315,0.0009],[320,0.0007],[325,0.0011],[330,0.0008],[335,0.0016],[340,0.0007],[345,0.0009],[350,0.0006],
  [355,0.0008],[360,0.0011],[365,0.0007],[370,0.0005],[375,0.0009],[380,0.0007],[385,0.0012],[390,0.0006],[395,0.0008],
  [400,0.0005],[405,0.0007],[410,0.0006],[415,0.0009],[420,0.0005],[425,0.0007],[430,0.0006],[435,0.0008],[440,0.0005],
  [445,0.0007],[450,0.0006],[455,0.0012],[460,0.0007],[465,0.0009],[470,0.0006],[475,0.0008],[480,0.0011],[485,0.0007],
  [490,0.0009],[495,0.0006],[500,0.0008],[505,0.0011],[510,0.0009],[514,0.0035],[518,0.0012],[522,0.0008],[526,0.001],
  [530,0.0007],[535,0.0012],[540,0.0009],[545,0.0014],[551,0.004],[555,0.0013],[560,0.001],[565,0.0016],[570,0.0012],
  [575,0.0018],[580,0.0014],[585,0.0028],[590,0.0016],[595,0.0021],[600,0.0035],[604,0.0019],[608,0.0024],[612,0.0017],
  [616,0.0026],[619,0.0021],[622,0.0045],[625,0.0024],[628,0.0019],[631,0.0028],[634,0.0022],[636,0.0045],[638,0.033],
  [641,0.0036],[643,0.018],[646,0.0029],[649,0.0024],[652,0.0032],[655,0.0026],[658,0.0038],[661,0.0029],[664,0.0045],
  [667,0.0031],[670,0.0025],[673,0.0034],[675,0.0097],[678,0.0028],[681,0.0036],[684,0.0031],[687,0.0153],[690,0.0029],
  [693,0.0035],[696,0.0041],[699,0.0027],[702,0.0033],[705,0.0039],[709,0.0134],[712,0.0036],[715,0.0146],[718,0.0042],
  [720,0.0122],[723,0.0038],[726,0.0177],[729,0.0034],[732,0.0041],[735,0.0037],[738,0.011],[740,0.0043],[742,0.0155],
  [745,0.0039],[749,0.0122],[751,0.0045],[753,0.0104],[756,0.0036],[759,0.0029],[762,0.0033],[765,0.0041],[768,0.0027],
  [771,0.0032],[775,0.0064],[778,0.0031],[781,0.0026],[784,0.0022],[787,0.0029],[790,0.0024],[793,0.0031],[796,0.0027],
  [799,0.0033],[802,0.0038],[806,0.0193],[809,0.0026],[812,0.0021],[815,0.0018]
];
const cookIds = [[41, '21153'], [198, '21151'], [638, '3837']];

// ---- axis ticks / labels ----
const fitTicks = [4.60, 4.65, 4.70, 4.75, 4.80, 4.85];
const fitLabels = [4.60, 4.70, 4.80];
const rvfYTicks = [-0.3, -0.2, -0.1, 0, 0.1, 0.2, 0.3];
const rvfYLabels = [-0.3, 0.1];
const qqXTicks = [-3, -2, -1, 0, 1, 2, 3];
const qqYTicks = [-3, -2, -1, 0, 1, 2, 3, 4];
const qqYLabels = [-3, 0, 3];
const slYTicks = [0, 0.5, 1, 1.5, 2];
const slYLabels = [0, 1, 2];
const cookXTicks = [0, 200, 400, 600, 800];
const cookYTicks = [0, 0.02, 0.04, 0.06, 0.08];
const cookYLabels = [0, 0.06];

const FONT = "'Liberation Sans', Arial, Helvetica, sans-serif";
const RED = '#DF536B';

function fmt(v, d) {
  const s = Math.abs(v).toFixed(d);
  return v < 0 ? '\u2212' + s : s;
}

function xAxis(grid, min, max, ticks, labels, dec, name) {
  return {
    type: 'value', gridIndex: grid, min: min, max: max,
    axisLine: { show: false, onZero: false },
    splitLine: { show: false },
    axisTick: { show: true, length: 16, customValues: ticks, lineStyle: { color: '#000', width: 1.4 } },
    axisLabel: { customValues: labels, formatter: v => fmt(v, dec), color: '#000', fontSize: 26, fontFamily: FONT, margin: 37 },
    name: name, nameLocation: 'middle', nameGap: 104,
    nameTextStyle: { color: '#000', fontSize: 26, fontFamily: FONT }
  };
}

function yAxis(grid, min, max, ticks, labels, dec, name) {
  return {
    type: 'value', gridIndex: grid, min: min, max: max,
    axisLine: { show: false, onZero: false },
    splitLine: { show: false },
    axisTick: { show: true, length: 16, customValues: ticks, lineStyle: { color: '#000', width: 1.4 } },
    axisLabel: { customValues: labels, formatter: v => fmt(v, dec), rotate: 90, color: '#000', fontSize: 26, fontFamily: FONT, margin: 35 },
    name: name, nameLocation: 'middle', nameGap: 96,
    nameTextStyle: { color: '#000', fontSize: 26, fontFamily: FONT }
  };
}

// open circles, like R's pch = 1 (scatter defaults to 0.8 opacity)
const ringStyle = { color: 'rgba(0,0,0,0)', borderColor: '#000', borderWidth: 2, opacity: 1 };

function points(idx, data) {
  return {
    type: 'scatter', xAxisIndex: idx, yAxisIndex: idx, data: data,
    symbol: 'circle', symbolSize: 11.3, itemStyle: ringStyle, silent: true, z: 2
  };
}

function idLabels(idx, ids, side) {
  return {
    type: 'scatter', xAxisIndex: idx, yAxisIndex: idx, symbolSize: 11.3, silent: true, z: 5,
    itemStyle: { color: 'rgba(0,0,0,0)' },
    data: ids.map(d => ({ value: [d[0], d[1]], name: d[2] })),
    label: { show: true, position: side, distance: 1, formatter: p => p.name, color: '#000', fontSize: 18.5, fontFamily: FONT }
  };
}

function zip(xs, ys) {
  return xs.map((x, i) => [x, ys[i]]);
}

const gridBox = { show: true, borderColor: '#000', borderWidth: 1.5, backgroundColor: 'rgba(0,0,0,0)' };
const titleStyle = { color: '#000', fontSize: 32, fontWeight: 'normal', fontFamily: FONT };

const chart = echarts.init(document.getElementById('main'));

chart.setOption({
  animation: false,
  title: [
    { text: 'Residuals vs Fitted', left: 346, top: 34, textAlign: 'center', padding: 0, textStyle: titleStyle },
    { text: 'Q\u2013Q Residuals', left: 969.7, top: 34, textAlign: 'center', padding: 0, textStyle: titleStyle },
    { text: 'Scale\u2212Location', left: 346, top: 466.5, textAlign: 'center', padding: 0, textStyle: titleStyle },
    { text: "Cook's distance", left: 969.7, top: 466.5, textAlign: 'center', padding: 0, textStyle: titleStyle }
  ],
  grid: [
    Object.assign({ left: 132.7, top: 73.3, width: 426.6, height: 138.4 }, gridBox),
    Object.assign({ left: 756.3, top: 73.3, width: 426.7, height: 138.4 }, gridBox),
    Object.assign({ left: 132.7, top: 505.7, width: 426.6, height: 138.3 }, gridBox),
    Object.assign({ left: 756.3, top: 505.7, width: 426.7, height: 138.3 }, gridBox)
  ],
  xAxis: [
    xAxis(0, 4.5517, 4.862, fitTicks, fitLabels, 2, 'Fitted values'),
    xAxis(1, -3.49, 3.49, qqXTicks, qqXTicks, 0, 'Theoretical Quantiles'),
    xAxis(2, 4.5517, 4.862, fitTicks, fitLabels, 2, 'Fitted values'),
    xAxis(3, -32.6, 847.6, cookXTicks, cookXTicks, 0, 'Obs. number')
  ],
  yAxis: [
    yAxis(0, -0.303, 0.394, rvfYTicks, rvfYLabels, 1, 'Residuals'),
    yAxis(1, -3.02, 4.65, qqYTicks, qqYLabels, 0, 'Standardized residuals'),
    yAxis(2, -0.0788, 2.0488, slYTicks, slYLabels, 1, '\u221A|Standardized residuals|'),
    yAxis(3, -0.0036, 0.0942, cookYTicks, cookYLabels, 2, "Cook's distance")
  ],
  // radical bar over the Scale-Location axis title
  graphic: [
    { type: 'line', shape: { x1: 4, y1: 432, x2: 4, y2: 706 }, style: { stroke: '#000', lineWidth: 1.3 }, silent: true }
  ],
  series: [
    // Residuals vs Fitted
    Object.assign(points(0, rvfPoints.concat(rvfCore)), {
      markLine: {
        silent: true, symbol: 'none', label: { show: false },
        lineStyle: { color: '#BEBEBE', type: [2, 4], width: 1.4 },
        data: [{ yAxis: 0 }], z: 4
      }
    }),
    {
      type: 'line', xAxisIndex: 0, yAxisIndex: 0, data: zip(rvfSmoothX, rvfSmoothY),
      smooth: 0.4, showSymbol: false, lineStyle: { color: RED, width: 2 }, silent: true, z: 4
    },
    idLabels(0, rvfIds, 'right'),

    // Q-Q
    points(1, qqPoints),
    {
      type: 'line', xAxisIndex: 1, yAxisIndex: 1, data: zip(qqLineX, qqLineY),
      showSymbol: false, lineStyle: { color: '#7F7F7F', type: [2, 4], width: 1.4 }, silent: true, z: 4
    },
    idLabels(1, qqIds, 'left'),

    // Scale-Location
    points(2, slPoints.concat(slCore)),
    {
      type: 'line', xAxisIndex: 2, yAxisIndex: 2, data: zip(slSmoothX, slSmoothY),
      smooth: 0.4, showSymbol: false, lineStyle: { color: RED, width: 2 }, silent: true, z: 4
    },
    idLabels(2, slIds, 'right'),

    // Cook's distance
    {
      type: 'bar', xAxisIndex: 3, yAxisIndex: 3, barWidth: 2.4, barMinHeight: 3, silent: true,
      itemStyle: { color: '#000' },
      data: cookPoints.map(p => {
        const id = cookIds.find(c => c[0] === p[0]);
        if (!id) return p;
        return {
          value: p,
          label: { show: true, position: 'top', distance: 3, formatter: id[1], color: '#000', fontSize: 18.5, fontFamily: FONT }
        };
      })
    }
  ]
});
</script>
</body>
</html>
